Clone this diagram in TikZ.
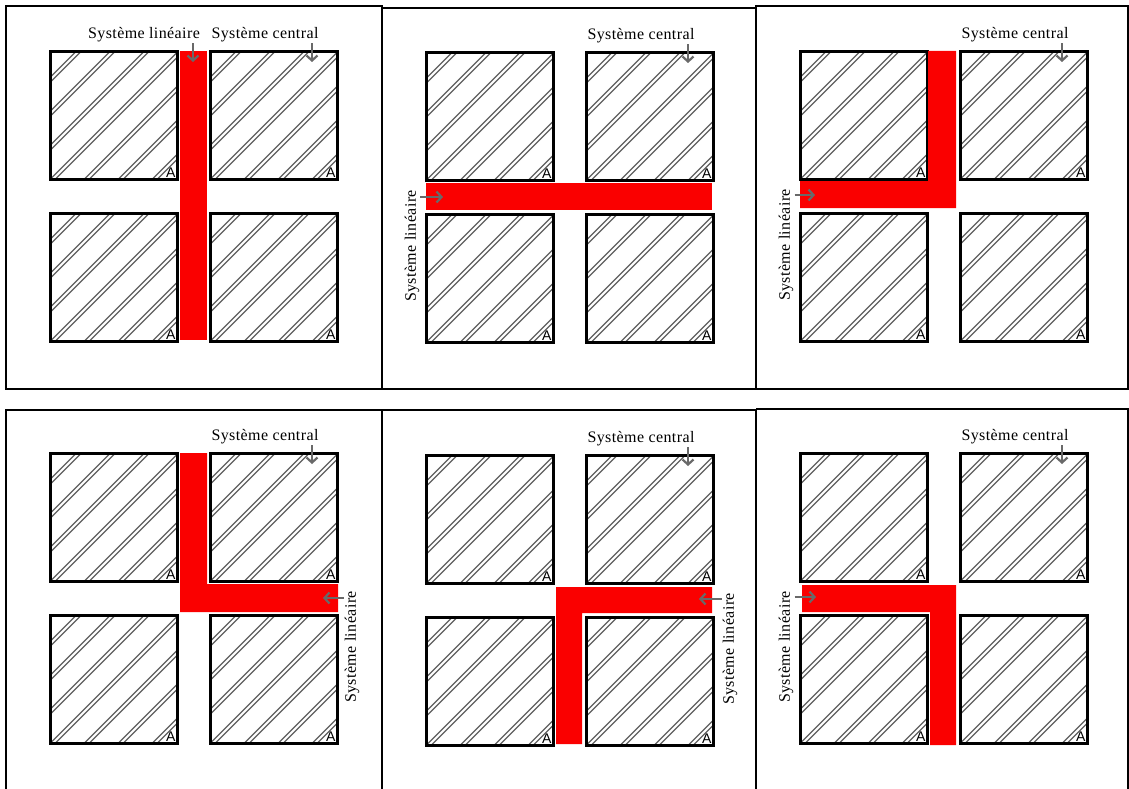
\documentclass[tikz,border=0pt]{standalone}
\usepackage{fontspec}
\setmainfont{Liberation Serif}
\newfontfamily\labfont{Liberation Serif}[LetterSpace=2.5]
\newfontfamily\afont{Liberation Sans}
\usetikzlibrary{calc,arrows.meta}
\definecolor{hatchgray}{RGB}{95,95,95}
\definecolor{arrowgray}{RGB}{105,105,105}
\definecolor{barred}{RGB}{250,0,0}
\tikzset{
  blk/.style={draw=black, line width=2.2pt, minimum width=127pt, minimum height=128pt, inner sep=0pt,
    path picture={
      \foreach \k in {-7,...,7}{
        \draw[hatchgray, line width=1.1pt] ([xshift=\k*34pt-150pt, yshift=-150pt]path picture bounding box.center) -- ++(300,-300);
        \draw[hatchgray, line width=1.1pt] ([xshift=\k*34pt-145pt, yshift=-150pt]path picture bounding box.center) -- ++(300,-300);
      }
    }},
  alab/.style={anchor=south east, inner sep=0pt, font=\afont\fontsize{14}{14}\selectfont},
  lab/.style={font=\labfont\fontsize{16}{16}\selectfont, inner sep=1pt},
  arr/.style={draw=arrowgray, line width=2.2pt, -{Straight Barb[length=5pt,width=11pt]}},
  frame/.style={draw=black, line width=1.4pt},
  bar/.style={fill=barred}
}
\newcommand\blocks[3]{%
  \node[blk] (#1a) at (#2+64,#3+64.5) {};
  \node[blk] (#1b) at (#2+224,#3+64.5) {};
  \node[blk] (#1c) at (#2+64,#3+226.5) {};
  \node[blk] (#1d) at (#2+224,#3+226.5) {};
  \foreach \q in {a,b,c,d}{
    \node[alab] (#1\q A) at ([shift={(-3,-3)}]#1\q.south east) {A};
  }
}
\newcommand\central[3]{%
  \node[lab] (#1cl) at (#2+215,#3-16) {Système central};
  \coordinate (#1ct) at (#2+262,#3+11);
  \draw[arr] (#1ct |- #1cl.south) -- (#1ct);
}
\begin{document}
\begin{tikzpicture}[x=1pt,y=-1pt]
\useasboundingbox (0,0) rectangle (1129,789);
\fill[white] (0,0) rectangle (1129,789);
% frames
\draw[frame] (6,6) rectangle (382,389);
\draw[frame] (382,8) rectangle (756,389);
\draw[frame] (756,6) rectangle (1128,389);
\draw[frame] (6,789) -- (6,410) -- (382,410) -- (382,789);
\draw[frame] (382,410) -- (756,410) -- (756,789);
\draw[frame] (756,409) -- (1128,409) -- (1128,789);

% ---------- panel 1 ----------
\blocks{p1}{50}{51}
\fill[bar] (180,51) rectangle (207,340);
\central{p1}{50}{51}
\node[lab] (p1l) at (144,35) {Système linéaire};
\coordinate (p1lt) at (193,62);
\draw[arr] (p1lt |- p1l.south) -- (p1lt);

% ---------- panel 2 ----------
\blocks{p2}{426}{52}
\fill[bar] (426,183) rectangle (712,210);
\central{p2}{426}{52}
\node[lab, rotate=90] (p2l) at (412,246) {Système linéaire};
\coordinate (p2lt) at (443,197);
\draw[arr] (p2l.south |- p2lt) -- (p2lt);

% ---------- panel 3 ----------
\blocks{p3}{800}{51}
\fill[bar] (928,51) -- (956,51) -- (956,208) -- (800,208) -- (800,181) -- (928,181) -- cycle;
\central{p3}{800}{51}
\node[lab, rotate=90] (p3l) at (786,245) {Système linéaire};
\coordinate (p3lt) at (815,195);
\draw[arr] (p3l.south |- p3lt) -- (p3lt);

% ---------- panel 4 ----------
\blocks{p4}{50}{453}
\fill[bar] (180,453) -- (207,453) -- (207,584) -- (338,584) -- (338,612) -- (180,612) -- cycle;
\central{p4}{50}{453}
\node[lab, rotate=90] (p4l) at (352,647) {Système linéaire};
\coordinate (p4lt) at (323,598);
\draw[arr] (p4l.north |- p4lt) -- (p4lt);

% ---------- panel 5 ----------
\blocks{p5}{426}{455}
\fill[bar] (556,587) -- (712,587) -- (712,613) -- (582,613) -- (582,744) -- (556,744) -- cycle;
\central{p5}{426}{455}
\node[lab, rotate=90] (p5l) at (730,649) {Système linéaire};
\coordinate (p5lt) at (699,599);
\draw[arr] (p5l.north |- p5lt) -- (p5lt);

% ---------- panel 6 ----------
\blocks{p6}{800}{453}
\fill[bar] (802,585) -- (956,585) -- (956,745) -- (930,745) -- (930,612) -- (802,612) -- cycle;
\central{p6}{800}{453}
\node[lab, rotate=90] (p6l) at (786,647) {Système linéaire};
\coordinate (p6lt) at (816,597);
\draw[arr] (p6l.south |- p6lt) -- (p6lt);
\end{tikzpicture}
\end{document}
